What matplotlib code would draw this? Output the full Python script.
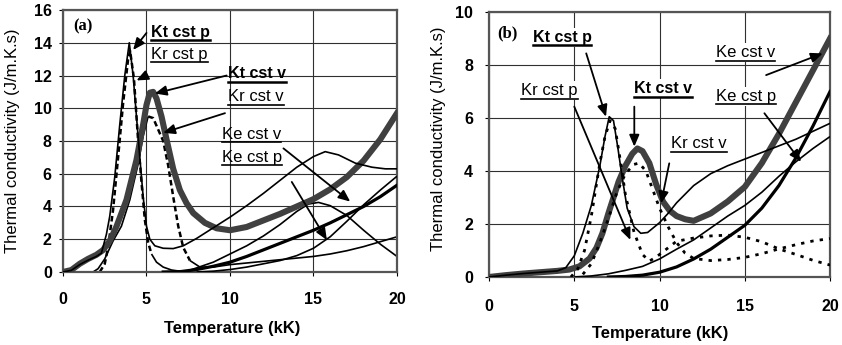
import matplotlib
matplotlib.use("Agg")
import matplotlib.pyplot as plt
from matplotlib.lines import Line2D
import numpy as np

plt.rcParams['font.family'] = ['Liberation Sans', 'DejaVu Sans']

# ---------------- Panel (a) data ----------------
kt_p_a_T = [0, 0.5, 1.0, 1.5, 2.0, 2.3, 2.6, 2.8, 3.1, 3.4, 3.7, 3.97, 4.2, 4.4, 4.6, 4.8, 5.0, 5.2, 5.5,
            6.0, 6.6, 7.2, 8.0, 9.0, 10.0, 11.0, 12.0, 13.0, 14.0, 15.0, 15.7, 16.5, 17.5, 18.5, 19.3, 20.0]
kt_p_a_K = [0, 0.1, 0.45, 0.72, 0.95, 1.15, 2.3, 3.4, 5.8, 9.0, 12.0, 14.0, 12.0, 9.5, 7.0, 4.6, 2.8, 2.0, 1.6,
            1.45, 1.43, 1.6, 2.05, 2.7, 3.35, 4.05, 4.8, 5.6, 6.4, 7.05, 7.35, 7.15, 6.65, 6.4, 6.3, 6.3]

kr_p_a_T = [2.2, 2.5, 2.7, 3.0, 3.3, 3.6, 3.9, 4.02, 4.25, 4.5, 4.7, 4.9, 5.1, 5.3, 5.6, 6.0, 6.5, 7.0, 7.5,
            8.0, 9.0, 10.0, 11.0, 12.0, 13.0, 14.0, 14.7, 15.3, 16.0, 17.0, 18.0, 19.0, 20.0]
kr_p_a_K = [0, 0.5, 1.5, 3.8, 7.0, 10.3, 13.0, 13.5, 11.8, 8.0, 5.5, 3.2, 1.8, 1.1, 0.6, 0.3, 0.12, 0.05, 0.08,
            0.25, 0.6, 1.1, 1.6, 2.2, 2.9, 3.7, 4.15, 4.25, 4.05, 3.45, 2.55, 1.7, 0.95]

kt_v_a_T = [0, 0.5, 1.0, 1.5, 2.0, 2.4, 2.8, 3.2, 3.8, 4.4, 4.8, 5.0, 5.2, 5.4, 5.6, 5.9, 6.2, 6.6, 7.0, 7.4,
            7.8, 8.5, 9.2, 10.0, 11.0, 12.0, 13.0, 14.0, 15.0, 16.0, 17.0, 18.0, 19.0, 20.0]
kt_v_a_K = [0, 0.12, 0.5, 0.8, 1.05, 1.34, 1.9, 2.77, 4.4, 6.84, 9.0, 10.2, 10.95, 11.0, 10.6, 9.5, 8.1, 6.3,
            5.0, 4.2, 3.6, 3.0, 2.67, 2.55, 2.75, 3.15, 3.55, 4.0, 4.45, 5.05, 5.8, 6.8, 8.1, 9.7]

kr_v_a_T = [1.8, 2.1, 2.5, 3.0, 3.5, 4.0, 4.5, 4.8, 5.1, 5.4, 5.7, 6.0, 6.3, 6.6, 6.9, 7.2, 7.6, 8.2, 9.0,
            10.0, 11.0, 12.0, 13.0, 14.0, 15.0, 16.0, 17.0, 18.0, 19.0, 20.0]
kr_v_a_K = [0, 0.2, 0.8, 1.9, 2.8, 4.4, 6.6, 8.3, 9.5, 9.4, 8.7, 8.0, 6.5, 4.6, 2.8, 1.5, 0.7, 0.3, 0.3,
            0.45, 0.55, 0.65, 0.75, 0.85, 0.95, 1.1, 1.3, 1.55, 1.85, 2.15]

ke_v_a_T = [6.0, 7.0, 8.0, 9.0, 10.0, 11.0, 12.0, 13.0, 14.0, 15.0, 16.0, 17.0, 18.0, 19.0, 20.0]
ke_v_a_K = [0, 0.02, 0.15, 0.35, 0.6, 0.95, 1.35, 1.75, 2.15, 2.55, 3.0, 3.5, 4.0, 4.6, 5.3]

ke_p_a_T = [8, 9, 10, 11, 12, 13, 14, 15, 16, 17, 18, 19, 20]
ke_p_a_K = [0, 0.05, 0.15, 0.3, 0.5, 0.7, 1.0, 1.45, 2.15, 3.1, 4.1, 5.0, 5.85]

# ---------------- Panel (b) data ----------------
kt_p_b_T = [0, 1, 2, 3, 4, 4.5, 5.0, 5.5, 6.0, 6.5, 6.8, 7.05, 7.3, 7.55, 7.8, 8.1, 8.5, 8.9, 9.3, 10.0,
            10.5, 11.0, 12.0, 13.0, 14.0, 15.0, 16.0, 17.0, 18.0, 19.0, 20.0]
kt_p_b_K = [0, 0.07, 0.13, 0.18, 0.23, 0.35, 0.8, 1.65, 2.7, 4.2, 5.3, 6.05, 5.9, 4.9, 3.8, 2.6, 1.9, 1.65,
            1.68, 2.05, 2.4, 2.8, 3.45, 3.9, 4.2, 4.45, 4.7, 4.95, 5.2, 5.5, 5.8]

kr_p_b_T = [4.8, 5.2, 5.6, 6.0, 6.5, 6.8, 7.1, 7.4, 7.7, 8.0, 8.5, 9.0, 9.4, 9.8, 10.5, 11.0, 12.0, 13.0,
            14.0, 15.0, 16.0, 17.0, 18.0, 19.0, 20.0]
kr_p_b_K = [0, 0.3, 1.0, 2.3, 4.3, 5.3, 5.9, 5.6, 4.4, 3.1, 1.7, 0.85, 0.6, 0.75, 1.1, 1.35, 1.47, 1.55,
            1.58, 1.5, 1.33, 1.06, 0.85, 0.63, 0.45]

kt_v_b_T = [0, 1, 2, 3, 4, 4.7, 5.3, 5.9, 6.3, 6.65, 7.0, 7.25, 7.6, 8.0, 8.4, 8.7, 9.0, 9.4, 9.8, 10.2,
            10.6, 11.0, 11.5, 12.0, 13.0, 14.0, 15.0, 16.0, 17.0, 18.0, 19.0, 20.0]
kt_v_b_K = [0, 0.07, 0.13, 0.18, 0.23, 0.28, 0.4, 0.7, 1.1, 1.65, 2.4, 2.9, 3.6, 4.2, 4.65, 4.85, 4.75,
            4.3, 3.5, 2.85, 2.5, 2.3, 2.18, 2.12, 2.4, 2.85, 3.4, 4.3, 5.4, 6.6, 7.8, 9.0]

kr_v_b_T = [5.5, 6.0, 6.5, 7.0, 7.5, 8.0, 8.5, 8.8, 9.2, 9.6, 10.0, 10.5, 11.0, 11.5, 12.0, 13.0, 14.0,
            15.0, 16.0, 17.0, 18.0, 19.0, 20.0]
kr_v_b_K = [0.1, 0.5, 1.3, 2.2, 3.2, 3.9, 4.25, 4.3, 4.0, 3.3, 2.6, 1.9, 1.3, 0.9, 0.7, 0.62, 0.66, 0.74,
            0.88, 1.06, 1.22, 1.36, 1.45]

ke_p_b_T = [7, 8, 9, 10, 11, 12, 13, 14, 15, 16, 17, 18, 19, 20]
ke_p_b_K = [0, 0.02, 0.07, 0.18, 0.38, 0.68, 1.05, 1.5, 1.95, 2.6, 3.45, 4.5, 5.7, 7.0]

ke_v_b_T = [5, 6, 7, 8, 9, 10, 11, 12, 13, 14, 15, 16, 17, 18, 19, 20]
ke_v_b_K = [0, 0.04, 0.12, 0.25, 0.4, 0.68, 1.05, 1.4, 1.85, 2.3, 2.7, 3.2, 3.8, 4.35, 4.85, 5.3]

x_ticks = [0, 5, 10, 15, 20]
y_ticks_a = [0, 2, 4, 6, 8, 10, 12, 14, 16]
y_ticks_b = [0, 2, 4, 6, 8, 10]
xlabel = "Temperature (kK)"
ylabel = "Thermal conductivity (J/m.K.s)"

# ---------------- Figure ----------------
fig = plt.figure(figsize=(8.42, 3.45), dpi=100)
axa = fig.add_axes([0.0748, 0.2116, 0.3967, 0.7594])
axb = fig.add_axes([0.5808, 0.1971, 0.4050, 0.7680])

GRAY = '#404040'
THIN = 1.2
THICKGRAY = 4.4
THICKBLACK = 2.3


def split_plot(ax, T, K, t_from, t_to, inner_style, outer_style):
    """Draw one series with a different line style between t_from and t_to
    (segments share their end points so the curve stays continuous)."""
    T = np.asarray(T); K = np.asarray(K)
    idx_in = np.where((T >= t_from) & (T <= t_to))[0]
    i0 = max(idx_in[0] - (0 if T[idx_in[0]] == t_from else 1), 0)
    i1 = min(idx_in[-1] + (0 if T[idx_in[-1]] == t_to else 1), len(T) - 1)
    ax.plot(T[i0:i1 + 1], K[i0:i1 + 1], **inner_style)
    if i0 > 0:
        ax.plot(T[:i0 + 1], K[:i0 + 1], **outer_style)
    if i1 < len(T) - 1:
        ax.plot(T[i1:], K[i1:], **outer_style)


solid_thin = dict(color='k', lw=THIN, solid_capstyle='butt')
dash_a = dict(color='k', lw=1.8, ls=(0, (2.2, 1.3)))
dot_b = dict(color='k', lw=2.0, ls=(0, (1.2, 2.2)))

# Panel (a)
axa.plot(kt_v_a_T, kt_v_a_K, color=GRAY, lw=THICKGRAY, solid_joinstyle='round', zorder=3)
axa.plot(ke_v_a_T, ke_v_a_K, color='k', lw=THICKBLACK, zorder=3)
axa.plot(ke_p_a_T, ke_p_a_K, **solid_thin, zorder=3)
axa.plot(kt_p_a_T, kt_p_a_K, **solid_thin, zorder=4)
split_plot(axa, kr_p_a_T, kr_p_a_K, 0, 5.2, dash_a, solid_thin)
split_plot(axa, kr_v_a_T, kr_v_a_K, 5.2, 7.6, dash_a, solid_thin)

# Panel (b)
axb.plot(kt_v_b_T, kt_v_b_K, color=GRAY, lw=THICKGRAY, solid_joinstyle='round', zorder=3)
axb.plot(ke_p_b_T, ke_p_b_K, color='k', lw=THICKBLACK, zorder=3)
axb.plot(ke_v_b_T, ke_v_b_K, **solid_thin, zorder=3)
axb.plot(kt_p_b_T, kt_p_b_K, **solid_thin, zorder=4)
axb.plot(kr_p_b_T, kr_p_b_K, **dot_b, zorder=4)
axb.plot(kr_v_b_T, kr_v_b_K, **dot_b, zorder=4)

for ax, yt in ((axa, y_ticks_a), (axb, y_ticks_b)):
    ax.set_xlim(0, 20)
    ax.set_ylim(yt[0], yt[-1])
    ax.set_xticks(x_ticks)
    ax.set_yticks(yt)
    ax.set_axisbelow(True)
    ax.grid(True, color='#303030', lw=0.8)
    for s in ax.spines.values():
        s.set_color('#555555')
        s.set_linewidth(1.6)
    ax.tick_params(direction='out', length=3, width=0.8, labelsize=11.5)
    for lab in ax.get_xticklabels() + ax.get_yticklabels():
        lab.set_fontweight('bold')
    ax.set_xlabel(xlabel, fontsize=12, fontweight='bold')
    ax.set_ylabel(ylabel, fontsize=12)

axa.tick_params(axis='x', pad=11.5)
axb.tick_params(axis='x', pad=13)
axa.tick_params(axis='y', pad=5)
axb.tick_params(axis='y', pad=8.5)

axa.xaxis.set_label_coords(0.506, -0.187)
axb.xaxis.set_label_coords(0.501, -0.185)
axa.yaxis.set_label_coords(-0.129, 0.5)
axb.yaxis.set_label_coords(-0.126, 0.52)

# panel tags
axa.text(0.6, 15.0, "(a)", family='Liberation Serif', fontweight='bold', fontsize=12, va='center', ha='left')
axb.text(0.5, 9.2, "(b)", family='Liberation Serif', fontweight='bold', fontsize=12, va='center', ha='left')

labels_a = [("Kt cst p", 5.3, 14.65, True), ("Kr cst p", 5.3, 13.3, False),
            ("Kt cst v", 9.9, 12.1, True), ("Kr cst v", 9.9, 10.7, False),
            ("Ke cst v", 9.5, 8.4, False), ("Ke cst p", 9.5, 7.0, False)]
arrows_a = [((5.0, 14.6), (4.2, 13.56)), ((5.0, 12.0), (4.4, 11.7)),
            ((9.8, 12.0), (5.5, 10.9)), ((9.7, 9.7), (6.0, 8.5)),
            ((13.2, 7.55), (17.2, 4.3)), ((13.7, 5.5), (15.8, 1.95))]
labels_b = [("Kt cst p", 2.55, 9.04, True), ("Kr cst p", 1.88, 7.02, False),
            ("Kt cst v", 8.5, 7.1, True), ("Kr cst v", 10.7, 5.02, False),
            ("Ke cst v", 13.3, 8.47, False), ("Ke cst p", 13.3, 6.83, False)]
arrows_b = [((5.7, 8.44), (6.86, 6.05)), ((5.0, 6.43), (8.29, 1.4)),
            ((8.52, 6.43), (8.52, 4.92)), ((10.57, 4.29), (10.09, 2.78)),
            ((16.25, 7.62), (19.57, 8.44)), ((16.15, 6.18), (18.3, 4.35))]

texts = []
for ax, labs, bg in ((axa, labels_a, False), (axb, labels_b, True)):
    for s, x, y, bold in labs:
        kw = dict(fontsize=11.5 if bold else 12, fontweight='bold' if bold else 'normal',
                  ha='left', va='center', zorder=6)
        if bg:
            kw['bbox'] = dict(fc='white', ec='none', pad=1.5)
        t = ax.text(x, y, s, **kw)
        texts.append((t, bold))

for ax, arrs in ((axa, arrows_a), (axb, arrows_b)):
    for (x0, y0), (x1, y1) in arrs:
        ax.annotate("", xy=(x1, y1), xytext=(x0, y0),
                    arrowprops=dict(arrowstyle='-|>,head_length=0.7,head_width=0.3',
                                    color='k', lw=1.3, shrinkA=0, shrinkB=0),
                    zorder=7)

fig.canvas.draw()
r = fig.canvas.get_renderer()
inv = fig.transFigure.inverted()
for t, bold in texts:
    bb = t.get_window_extent(r)
    x0, y0 = inv.transform((bb.x0, bb.y0 - 0.5))
    x1, _ = inv.transform((bb.x1, bb.y0))
    fig.add_artist(Line2D([x0, x1], [y0, y0], transform=fig.transFigure, color='k',
                          lw=1.8 if bold else 1.2, zorder=8))

fig.savefig("out.png", dpi=100)
